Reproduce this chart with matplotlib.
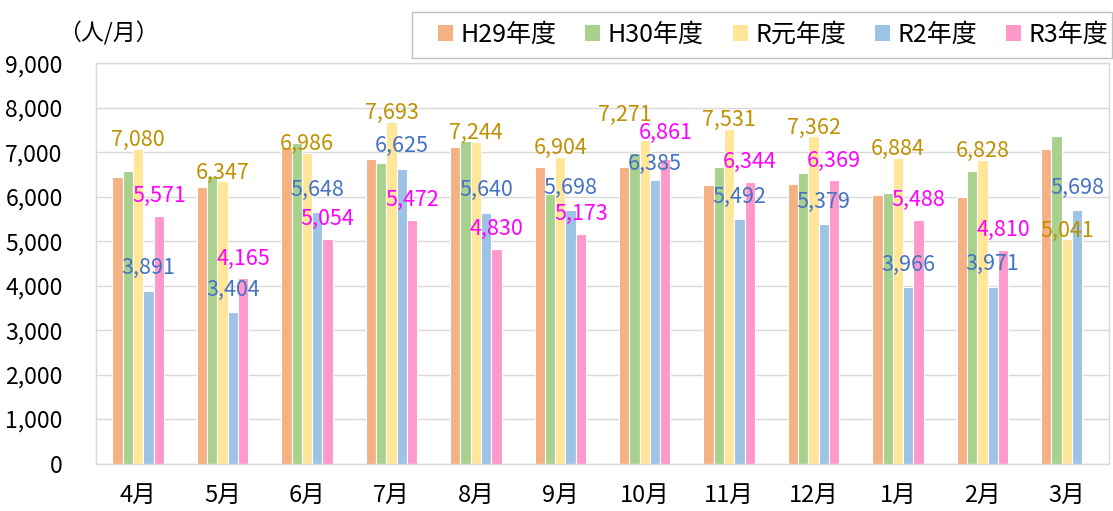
import numpy as np
import matplotlib
matplotlib.use('Agg')
import matplotlib.pyplot as plt
from matplotlib.patches import Patch, Rectangle

plt.rcParams['font.family'] = ['Noto Sans CJK JP', 'DejaVu Sans']

months = ['4月', '5月', '6月', '7月', '8月', '9月', '10月', '11月', '12月', '1月', '2月', '3月']
series = ['H29年度', 'H30年度', 'R元年度', 'R2年度', 'R3年度']

h29 = [6440, 6210, 7120, 6850, 7110, 6680, 6660, 6270, 6290, 6040, 6000, 7080]
h30 = [6590, 6460, 7200, 6770, 7260, 6070, 6990, 6670, 6530, 6090, 6570, 7360]
r1 = [7080, 6347, 6986, 7693, 7244, 6904, 7271, 7531, 7362, 6884, 6828, 5041]
r2 = [3891, 3404, 5648, 6625, 5640, 5698, 6385, 5492, 5379, 3966, 3971, 5698]
r3 = [5571, 4165, 5054, 5472, 4830, 5173, 6861, 6344, 6369, 5488, 4810, np.nan]

values = [h29, h30, r1, r2, r3]
bar_colors = ['#F4B183', '#A9D18E', '#FFE699', '#9DC3E6', '#FF99CC']
# which series get value labels, and in what colour
label_colors = [None, None, '#BF9000', '#4472C4', '#FF00FF']
label_lift = [0, 0, 2, 12, 10]  # points above bar top
# labels moved by hand in the original (points)
label_nudge = {(2, 6): (-14, 12), (3, 6): (0, -5), (4, 6): (0, 4)}

W, H = 1113, 511
fig = plt.figure(figsize=(W / 100, H / 100), dpi=100)
ax = fig.add_axes([96 / W, 1 - 463.5 / H, (1109 - 96) / W, 400 / H])

x = np.arange(len(months))
bw = 0.122
for i, (vals, col) in enumerate(zip(values, bar_colors)):
    pos = x + (i - 2) * bw
    ax.bar(pos, vals, width=bw, color=col, edgecolor='white', linewidth=0.8, zorder=2)
    if label_colors[i] is None:
        continue
    for j, (px, v) in enumerate(zip(pos, vals)):
        if np.isnan(v):
            continue
        dx, dy = label_nudge.get((i, j), (0, 0))
        ax.annotate(f'{int(v):,}', (px, v), xytext=(dx, label_lift[i] + dy),
                    textcoords='offset points', ha='center', va='baseline',
                    fontsize=15.5, color=label_colors[i], zorder=3)

ax.set_xlim(-0.5, len(months) - 0.5)
ax.set_ylim(0, 9000)
ax.set_yticks(range(0, 9001, 1000))
ax.set_yticklabels([f'{v:,}' for v in range(0, 9001, 1000)])
ax.set_xticks(x)
ax.set_xticklabels(months)
ax.tick_params(axis='y', length=0, pad=24, labelsize=16.5)
ax.tick_params(axis='x', length=0, pad=15, labelsize=17)
ax.grid(axis='y', color='#D9D9D9', linewidth=1.0, zorder=0)
ax.set_axisbelow(True)
for s in ax.spines.values():
    s.set_color('#D9D9D9')
    s.set_linewidth(1.0)

fig.text(58 / W, 1 - 33 / H, '（人/月）', ha='left', va='center', fontsize=16.5)

handles = [Patch(facecolor=c, edgecolor='none') for c in bar_colors]
fig.legend(handles, series, loc='center left', bbox_to_anchor=(438 / W, 1 - 35 / H),
           ncol=5, frameon=False, fontsize=18, handlelength=0.6, handleheight=0.6,
           handletextpad=0.3, columnspacing=1.15, borderpad=0, borderaxespad=0)
fig.patches.append(Rectangle((412 / W, 1 - 58 / H), (1112 - 412) / W, 46 / H,
                             transform=fig.transFigure, fill=False,
                             edgecolor='#BFBFBF', linewidth=1.0))

fig.savefig('out.png', dpi=100)
